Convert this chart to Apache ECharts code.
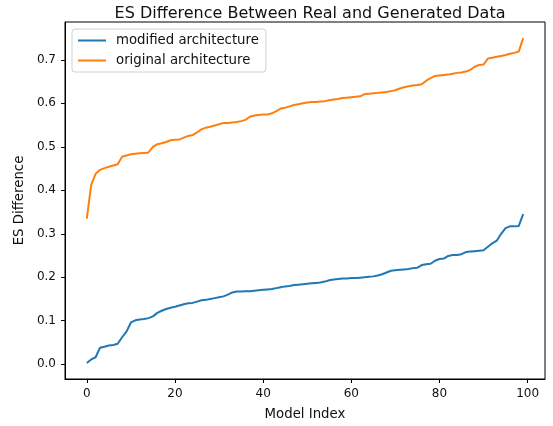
<!DOCTYPE html>
<html>
<head>
<meta charset="utf-8">
<script src="https://cdn.jsdelivr.net/npm/echarts@6/dist/echarts.min.js"></script>
<style>html,body{margin:0;padding:0;background:#fff;}#c{width:553px;height:426px;}</style>
</head>
<body>
<div id="c"></div>
<script>
const seriesNames = ['modified architecture', 'original architecture'];
const xTicks = [0, 20, 40, 60, 80, 100];
const yTicks = [0.0, 0.1, 0.2, 0.3, 0.4, 0.5, 0.6, 0.7];
const modified = [
  0.003, 0.011, 0.016, 0.038, 0.040, 0.043, 0.044, 0.047, 0.062, 0.075,
  0.096, 0.101, 0.103, 0.104, 0.106, 0.110, 0.118, 0.123, 0.127, 0.130,
  0.132, 0.135, 0.138, 0.140, 0.141, 0.144, 0.147, 0.148, 0.150, 0.152,
  0.154, 0.156, 0.160, 0.165, 0.167, 0.167, 0.168, 0.168, 0.169, 0.170,
  0.171, 0.172, 0.173, 0.175, 0.177, 0.179, 0.180, 0.182, 0.183, 0.184,
  0.185, 0.186, 0.187, 0.188, 0.190, 0.193, 0.195, 0.196, 0.197, 0.197,
  0.198, 0.198, 0.199, 0.200, 0.201, 0.202, 0.204, 0.207, 0.211, 0.215,
  0.216, 0.217, 0.218, 0.219, 0.221, 0.222, 0.228, 0.230, 0.231, 0.238,
  0.242, 0.243, 0.249, 0.251, 0.251, 0.253, 0.258, 0.259, 0.260, 0.261,
  0.262, 0.270, 0.278, 0.284, 0.300, 0.313, 0.317, 0.317, 0.318, 0.345
];
const original = [
  0.335, 0.413, 0.438, 0.447, 0.451, 0.454, 0.457, 0.460, 0.477, 0.480,
  0.483, 0.484, 0.485, 0.486, 0.487, 0.500, 0.506, 0.508, 0.511, 0.515,
  0.516, 0.517, 0.521, 0.525, 0.527, 0.533, 0.540, 0.544, 0.546, 0.549,
  0.552, 0.555, 0.555, 0.556, 0.557, 0.559, 0.562, 0.569, 0.572, 0.573,
  0.574, 0.574, 0.577, 0.582, 0.588, 0.590, 0.593, 0.596, 0.598, 0.600,
  0.602, 0.603, 0.603, 0.604, 0.605, 0.607, 0.609, 0.610, 0.612, 0.613,
  0.614, 0.615, 0.616, 0.621, 0.622, 0.623, 0.624, 0.625, 0.626, 0.628,
  0.630, 0.634, 0.637, 0.639, 0.641, 0.642, 0.644, 0.652, 0.658, 0.663,
  0.664, 0.665, 0.666, 0.668, 0.670, 0.671, 0.673, 0.677, 0.684, 0.688,
  0.689, 0.703, 0.705, 0.707, 0.709, 0.711, 0.714, 0.716, 0.719, 0.750
];

const font = 'DejaVu Sans';
const toPairs = arr => arr.map((v, i) => [i, v]);

const chart = echarts.init(document.getElementById('c'), null, {renderer: 'canvas'});
chart.setOption({
  animation: false,
  backgroundColor: '#fff',
  textStyle: {fontFamily: font},
  title: {
    text: 'ES Difference Between Real and Generated Data',
    left: 305, textAlign: 'center', top: 1,
    textStyle: {fontFamily: font, fontSize: 16, fontWeight: 'normal', color: '#111'}
  },
  grid: {
    left: 65, right: 8, top: 22, bottom: 44,
    show: true, borderColor: '#000', borderWidth: 1, backgroundColor: 'transparent'
  },
  legend: {
    orient: 'vertical',
    left: 72, top: 29,
    padding: [5, 7, 5, 5],
    itemGap: 7,
    itemWidth: 28, itemHeight: 14,
    borderColor: '#d0d0d0', borderWidth: 1, borderRadius: 3,
    backgroundColor: 'rgba(255,255,255,0.8)',
    itemStyle: {opacity: 0},
    lineStyle: {width: 2},
    textStyle: {fontFamily: font, fontSize: 13.3, color: '#111', padding: [0, 0, 0, 5]},
    data: seriesNames
  },
  xAxis: {
    type: 'value', min: -4.95, max: 103.95,
    name: 'Model Index', nameLocation: 'middle', nameGap: 29,
    nameTextStyle: {fontFamily: font, fontSize: 13.3, color: '#111'},
    axisLine: {show: true, onZero: false, lineStyle: {color: '#000', width: 1}},
    axisTick: {show: true, inside: false, length: 4, lineStyle: {color: '#000'}, customValues: xTicks},
    axisLabel: {fontFamily: font, fontSize: 12, color: '#111', margin: 9, customValues: xTicks,
      formatter: v => String(v)},
    splitLine: {show: false}
  },
  yAxis: {
    type: 'value', min: -0.034, max: 0.787,
    name: 'ES Difference', nameLocation: 'middle', nameGap: 36, nameRotate: 90,
    nameTextStyle: {fontFamily: font, fontSize: 13.3, color: '#111'},
    axisLine: {show: true, onZero: false, lineStyle: {color: '#000', width: 1}},
    axisTick: {show: true, inside: false, length: 4, lineStyle: {color: '#000'}, customValues: yTicks},
    axisLabel: {fontFamily: font, fontSize: 12, color: '#111', margin: 9, customValues: yTicks,
      formatter: v => v.toFixed(1)},
    splitLine: {show: false}
  },
  series: [
    {name: seriesNames[0], type: 'line', data: toPairs(modified), symbol: 'none',
     lineStyle: {color: '#1f77b4', width: 2}, itemStyle: {color: '#1f77b4'}},
    {name: seriesNames[1], type: 'line', data: toPairs(original), symbol: 'none',
     lineStyle: {color: '#ff7f0e', width: 2}, itemStyle: {color: '#ff7f0e'}}
  ]
});
</script>
</body>
</html>
